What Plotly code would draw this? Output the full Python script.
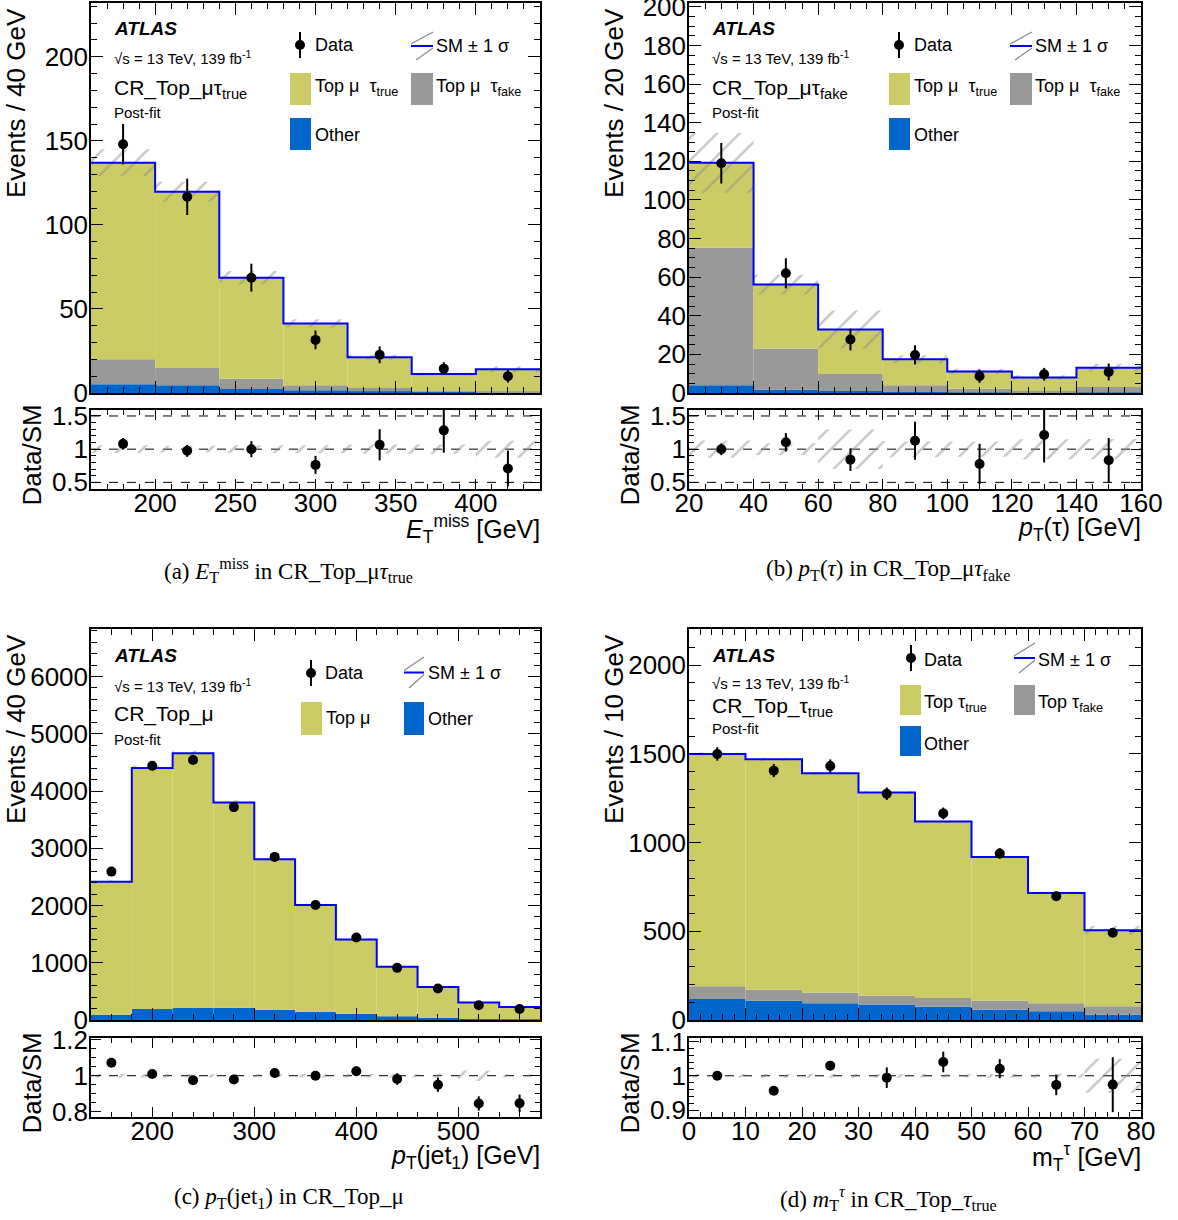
import numpy as np
import plotly.graph_objects as go

W, H = 1178, 1220
FONT = "Liberation Sans, Arial, Helvetica, sans-serif"
SERIF = "Liberation Serif, Times New Roman, serif"
YELLOW = "#CCCC66"
GREY = "#999999"
BLUE = "#0066CC"
SMBLUE = "#0000FF"
HATCH = "#8C8C8C"

# ---------------- (a) E_T^miss in CR_Top_mu tau_true ----------------
a_edges = [160, 200, 240, 280, 320, 360, 400, 440]
a_other = [5.2, 4.6, 2.4, 1.6, 1.0, 0.6, 0.4]
a_fake = [14.9, 10.3, 6.1, 3.0, 2.0, 0.4, 0.6]
a_true = [116.9, 104.8, 60.1, 36.8, 18.3, 10.3, 13.1]
a_unc = [8.0, 6.0, 4.0, 2.5, 1.5, 0.8, 1.8]
a_data = [148.0, 116.7, 68.6, 31.6, 22.7, 14.5, 10.0]
a_data_err = [12.0, 10.8, 8.3, 5.6, 5.0, 3.8, 3.8]

# ---------------- (b) pT(tau) in CR_Top_mu tau_fake ----------------
b_edges = [20, 40, 60, 80, 100, 120, 140, 160]
b_other = [4.0, 1.7, 1.0, 0.5, 0.3, 0.3, 0.3]
b_fake = [71.4, 21.3, 8.9, 3.5, 1.9, 0.7, 2.8]
b_true = [43.8, 33.2, 23.0, 13.5, 9.0, 7.0, 10.0]
b_unc = [15.5, 5.0, 9.8, 2.1, 1.3, 1.2, 2.0]
b_data = [119.0, 62.0, 27.7, 19.7, 8.7, 9.7, 10.9]
b_data_err = [10.5, 7.8, 5.6, 5.0, 3.4, 3.3, 4.4]

# ---------------- (c) pT(jet1) in CR_Top_mu ----------------
c_edges = [140, 180, 220, 260, 300, 340, 380, 420, 460, 500, 540, 580]
c_other = [93, 193, 210, 216, 181, 146, 111, 64, 41, 17, 12]
c_fake = [0, 0, 0, 0, 0, 0, 0, 0, 0, 0, 0]
c_true = [2324, 4209, 4448, 3584, 2627, 1862, 1296, 864, 537, 287, 216]
c_unc = [24, 44, 47, 38, 28, 20, 14, 9, 6, 9, 2]
c_data = [2592, 4442, 4542, 3719, 2849, 2008, 1442, 911, 549, 257, 193]
c_data_err = [50, 67, 67, 61, 53, 45, 38, 30, 23, 12, 11]

# ---------------- (d) mT^tau in CR_Top_tau_true ----------------
d_edges = [0, 10, 20, 30, 40, 50, 60, 70, 80]
d_other = [119, 109, 94, 87, 75, 58, 49, 30]
d_fake = [71, 62, 59, 50, 49, 51, 45, 47]
d_true = [1309, 1298, 1237, 1145, 995, 810, 622, 428]
d_unc = [8, 8, 8, 7, 6, 5, 4, 25]
d_data = [1499, 1405, 1431, 1275, 1164, 938, 697, 492]
d_data_err = [38, 37, 37, 35, 33, 30, 26, 22]
d_ratio_err = [0.005, 0.012, 0.005, 0.03, 0.03, 0.028, 0.03, 0.08]


def X(px):
    return px / W


def Y(py):
    return 1 - py / H


panels = [
    dict(edges=a_edges, other=a_other, fake=a_fake, true=a_true, unc=a_unc,
         data=a_data, err=a_data_err, rerr=None,
         px=(91, 540), main=(3, 393), ratio=(410, 489),
         yrange=(0, 232), ydt=50, ymn=10, rrange=(0.4, 1.59), rdt=0.5, rmn=0.1,
         rlines=[0.5, 1, 1.5], xdt=50, xmn=10),
    dict(edges=b_edges, other=b_other, fake=b_fake, true=b_true, unc=b_unc,
         data=b_data, err=b_data_err, rerr=None,
         px=(689, 1141), main=(3, 393), ratio=(410, 489),
         yrange=(0, 202), ydt=20, ymn=5, rrange=(0.4, 1.59), rdt=0.5, rmn=0.1,
         rlines=[0.5, 1, 1.5], xdt=20, xmn=5),
    dict(edges=c_edges, other=c_other, fake=c_fake, true=c_true, unc=c_unc,
         data=c_data, err=c_data_err, rerr=None,
         px=(91, 540), main=(629, 1020), ratio=(1038, 1117),
         yrange=(0, 6830), ydt=1000, ymn=200, rrange=(0.77, 1.21), rdt=0.2, rmn=0.05,
         rlines=[1], xdt=100, xmn=20),
    dict(edges=d_edges, other=d_other, fake=d_fake, true=d_true, unc=d_unc,
         data=d_data, err=d_data_err, rerr=d_ratio_err,
         px=(689, 1141), main=(629, 1020), ratio=(1038, 1117),
         yrange=(0, 2203), ydt=500, ymn=100, rrange=(0.88, 1.11), rdt=0.1, rmn=0.02,
         rlines=[1], xdt=10, xmn=2),
]

fig = go.Figure()
layout = dict(
    width=W, height=H, margin=dict(l=0, r=0, t=0, b=0, pad=0, autoexpand=False),
    paper_bgcolor="white", plot_bgcolor="white", showlegend=False,
    barmode="overlay", font=dict(family=FONT, color="black"),
)
shapes = []
annotations = []
TICKSIZE = 26


def axis_common():
    return dict(showline=True, linecolor="black", linewidth=1.5, mirror="allticks",
                ticks="inside", ticklen=12, tickwidth=1.2, tickcolor="black",
                showgrid=False, zeroline=False, automargin=False,
                ticklabeloverflow="allow",
                tickfont=dict(family=FONT, size=TICKSIZE, color="black"))


def pattern():
    return dict(shape="/", fgcolor=HATCH, bgcolor="rgba(0,0,0,0)", size=16,
                solidity=0.15, fillmode="overlay")


for k, p in enumerate(panels):
    nm, nr = 2 * k + 1, 2 * k + 2
    xm = "x" if nm == 1 else f"x{nm}"
    ym = "y" if nm == 1 else f"y{nm}"
    xr, yr = f"x{nr}", f"y{nr}"
    edges = np.array(p["edges"], float)
    centers = (edges[:-1] + edges[1:]) / 2
    widths = np.diff(edges)
    other = np.array(p["other"], float)
    fake = np.array(p["fake"], float)
    true = np.array(p["true"], float)
    unc = np.array(p["unc"], float)
    data = np.array(p["data"], float)
    err = np.array(p["err"], float)
    total = other + fake + true

    base = np.zeros_like(total)
    for comp, col in [(other, BLUE), (fake, GREY), (true, YELLOW)]:
        fig.add_trace(go.Bar(x=centers, y=comp, base=base, width=widths,
                             marker=dict(color=col, line=dict(width=0)),
                             xaxis=xm, yaxis=ym, hoverinfo="skip"))
        base = base + comp
    # uncertainty band
    fig.add_trace(go.Bar(x=centers, y=2 * unc, base=total - unc, width=widths,
                         marker=dict(color="rgba(0,0,0,0)", line=dict(width=0),
                                     pattern=pattern()),
                         xaxis=xm, yaxis=ym, hoverinfo="skip"))
    # SM total line
    fig.add_trace(go.Scatter(x=edges, y=np.append(total, total[-1]), mode="lines",
                             line=dict(shape="hv", color=SMBLUE, width=2),
                             xaxis=xm, yaxis=ym, hoverinfo="skip"))
    # data
    fig.add_trace(go.Scatter(x=centers, y=data, mode="markers",
                             marker=dict(color="black", size=10),
                             error_y=dict(type="data", array=err, width=0, thickness=2,
                                          color="black"),
                             xaxis=xm, yaxis=ym))
    # ratio
    frac = unc / total
    fig.add_trace(go.Bar(x=centers, y=2 * frac, base=1 - frac, width=widths,
                         marker=dict(color="rgba(0,0,0,0)", line=dict(width=0),
                                     pattern=pattern()),
                         xaxis=xr, yaxis=yr, hoverinfo="skip"))
    ratio = data / total
    rerr = np.array(p["rerr"], float) if p["rerr"] is not None else err / total
    fig.add_trace(go.Scatter(x=centers, y=ratio, mode="markers",
                             marker=dict(color="black", size=10),
                             error_y=dict(type="data", array=rerr, width=0, thickness=2,
                                          color="black"),
                             xaxis=xr, yaxis=yr))
    for v in p["rlines"]:
        shapes.append(dict(type="line", xref=f"{xr} domain", yref=yr, x0=0, x1=1,
                           y0=v, y1=v, layer="below",
                           line=dict(color="black", dash="dash", width=1)))

    x0, x1 = p["px"]
    xdom = [X(x0), X(x1)]
    xrange = [edges[0], edges[-1]]
    axm = axis_common()
    axm.update(domain=xdom, anchor=ym, range=xrange, dtick=p["xdt"], tick0=0,
               showticklabels=False,
               minor=dict(ticks="inside", ticklen=6, dtick=p["xmn"], tickcolor="black",
                          showgrid=False))
    aym = axis_common()
    aym.update(domain=[Y(p["main"][1]), Y(p["main"][0])], anchor=xm, range=list(p["yrange"]),
               dtick=p["ydt"], tick0=0, ticklabelstandoff=-4,
               minor=dict(ticks="inside", ticklen=6, dtick=p["ymn"], tickcolor="black",
                          showgrid=False))
    axr = axis_common()
    axr.update(domain=xdom, anchor=yr, range=xrange, dtick=p["xdt"], tick0=0,
               ticklen=10, ticklabelstandoff=-10,
               minor=dict(ticks="inside", ticklen=5, dtick=p["xmn"], tickcolor="black",
                          showgrid=False))
    ayr = axis_common()
    ayr.update(domain=[Y(p["ratio"][1]), Y(p["ratio"][0])], anchor=xr,
               range=list(p["rrange"]), dtick=p["rdt"], tick0=0, ticklen=10,
               ticklabelstandoff=-4,
               minor=dict(ticks="inside", ticklen=5, dtick=p["rmn"], tickcolor="black",
                          showgrid=False))
    layout["xaxis" if nm == 1 else f"xaxis{nm}"] = axm
    layout["yaxis" if nm == 1 else f"yaxis{nm}"] = aym
    layout[f"xaxis{nr}"] = axr
    layout[f"yaxis{nr}"] = ayr


def txt(x, y, text, size, family=FONT, xanchor="left", yanchor="middle", angle=0):
    annotations.append(dict(x=X(x), y=Y(y), xref="paper", yref="paper", text=text,
                            showarrow=False, xanchor=xanchor, yanchor=yanchor,
                            textangle=angle, font=dict(family=family, size=size,
                                                       color="black")))


def box(x0, x1, y0, y1, color):
    shapes.append(dict(type="rect", xref="paper", yref="paper", x0=X(x0), x1=X(x1),
                       y0=Y(y1), y1=Y(y0), fillcolor=color, line=dict(width=0)))


def line(x0, y0, x1, y1, color, width=1.2):
    shapes.append(dict(type="line", xref="paper", yref="paper", x0=X(x0), y0=Y(y0),
                       x1=X(x1), y1=Y(y1), line=dict(color=color, width=width)))


def data_sym(x, y):
    line(x, y - 13, x, y + 13, "black", 2)
    shapes.append(dict(type="circle", xref="paper", yref="paper",
                       x0=X(x - 5), x1=X(x + 5), y0=Y(y + 5), y1=Y(y - 5),
                       fillcolor="black", line=dict(width=0)))


def sm_sym(x0, x1, y0, y1):
    ym = (y0 + y1) / 2
    line(x0, ym - 2, x1, y0, HATCH, 1.3)
    line(x0 + 5, y1, x1, ym + 2, HATCH, 1.3)
    line(x0, ym, x1, ym, SMBLUE, 2)


ytitles = ["Events / 40 GeV", "Events / 20 GeV", "Events / 40 GeV", "Events / 10 GeV"]
xtitles = ["<i>E</i><sub>T</sub><sup>miss</sup> [GeV]",
           "<i>p</i><sub>T</sub>(τ) [GeV]",
           "<i>p</i><sub>T</sub>(jet<sub>1</sub>) [GeV]",
           "m<sub>T</sub><sup>τ</sup> [GeV]"]
captions = ["(a) <i>E</i><sub>T</sub><sup>miss</sup> in CR_Top_μ<i>τ</i><sub>true</sub>",
            "(b) <i>p</i><sub>T</sub>(<i>τ</i>) in CR_Top_μ<i>τ</i><sub>fake</sub>",
            "(c) <i>p</i><sub>T</sub>(jet<sub>1</sub>) in CR_Top_μ",
            "(d) <i>m</i><sub>T</sub><sup><i>τ</i></sup> in CR_Top_<i>τ</i><sub>true</sub>"]
regions = ["CR_Top_μτ<sub>true</sub>", "CR_Top_μτ<sub>fake</sub>", "CR_Top_μ",
           "CR_Top_τ<sub>true</sub>"]

for k, p in enumerate(panels):
    x0, x1 = p["px"]
    m0, m1 = p["main"]
    r0, r1 = p["ratio"]
    txt(x0 - 75, m0 + 100, ytitles[k], 26, angle=-90, xanchor="center")
    txt(x0 - 60, (r0 + r1) / 2 + 6, "Data/SM", 26, angle=-90, xanchor="center")
    txt(x1 + 2, r1 + 40, xtitles[k], 25, xanchor="right")
    txt((x0 + x1) / 2 - 27, r1 + 81, captions[k], 23, family=SERIF, xanchor="center")
    top = m0
    if k < 2:
        ys = [top + 25, top + 55, top + 86, top + 110]
    elif k == 2:
        ys = [top + 26, top + 56, top + 85, top + 110]
    else:
        ys = [top + 26, top + 53, top + 78, top + 99]
    txt(x0 + 21, ys[0], "<b><i>ATLAS</i></b>", 19)
    txt(x0 + 21, ys[1], "√s = 13 TeV, 139 fb<sup>-1</sup>", 15)
    txt(x0 + 21, ys[2], regions[k], 21)
    txt(x0 + 21, ys[3], "Post-fit", 15)

# legends (a) and (b)
for dx in [0, 599]:
    data_sym(300 + dx, 45)
    txt(313 + dx, 45, "Data", 18)
    sm_sym(411 + dx, 433 + dx, 32, 60)
    txt(434 + dx, 46, "SM ± 1 σ", 18)
    box(290 + dx, 311 + dx, 73, 105, YELLOW)
    txt(313 + dx, 87, "Top μ  τ<sub>true</sub>", 18)
    box(411 + dx, 433 + dx, 73, 105, GREY)
    txt(434 + dx, 87, "Top μ  τ<sub>fake</sub>", 18)
    box(290 + dx, 311 + dx, 118, 150, BLUE)
    txt(313 + dx, 135, "Other", 18)

# legend (c)
data_sym(311, 673)
txt(323, 673, "Data", 18)
sm_sym(404, 424, 657, 688)
txt(426, 673, "SM ± 1 σ", 18)
box(301, 322, 702, 735, YELLOW)
txt(324, 718, "Top μ", 18)
box(404, 424, 702, 735, BLUE)
txt(426, 719, "Other", 18)

# legend (d)
data_sym(911, 658)
txt(922, 660, "Data", 18)
sm_sym(1014, 1035, 643, 673)
txt(1036, 660, "SM ± 1 σ", 18)
box(900, 921, 685, 715, YELLOW)
txt(922, 703, "Top τ<sub>true</sub>", 18)
box(1014, 1035, 685, 715, GREY)
txt(1036, 703, "Top τ<sub>fake</sub>", 18)
box(900, 921, 726, 756, BLUE)
txt(922, 744, "Other", 18)

layout["shapes"] = shapes
layout["annotations"] = annotations
fig.update_layout(**layout)
fig.write_html("out.html", config={"displayModeBar": False},
               post_script="document.body.style.margin='0';")
